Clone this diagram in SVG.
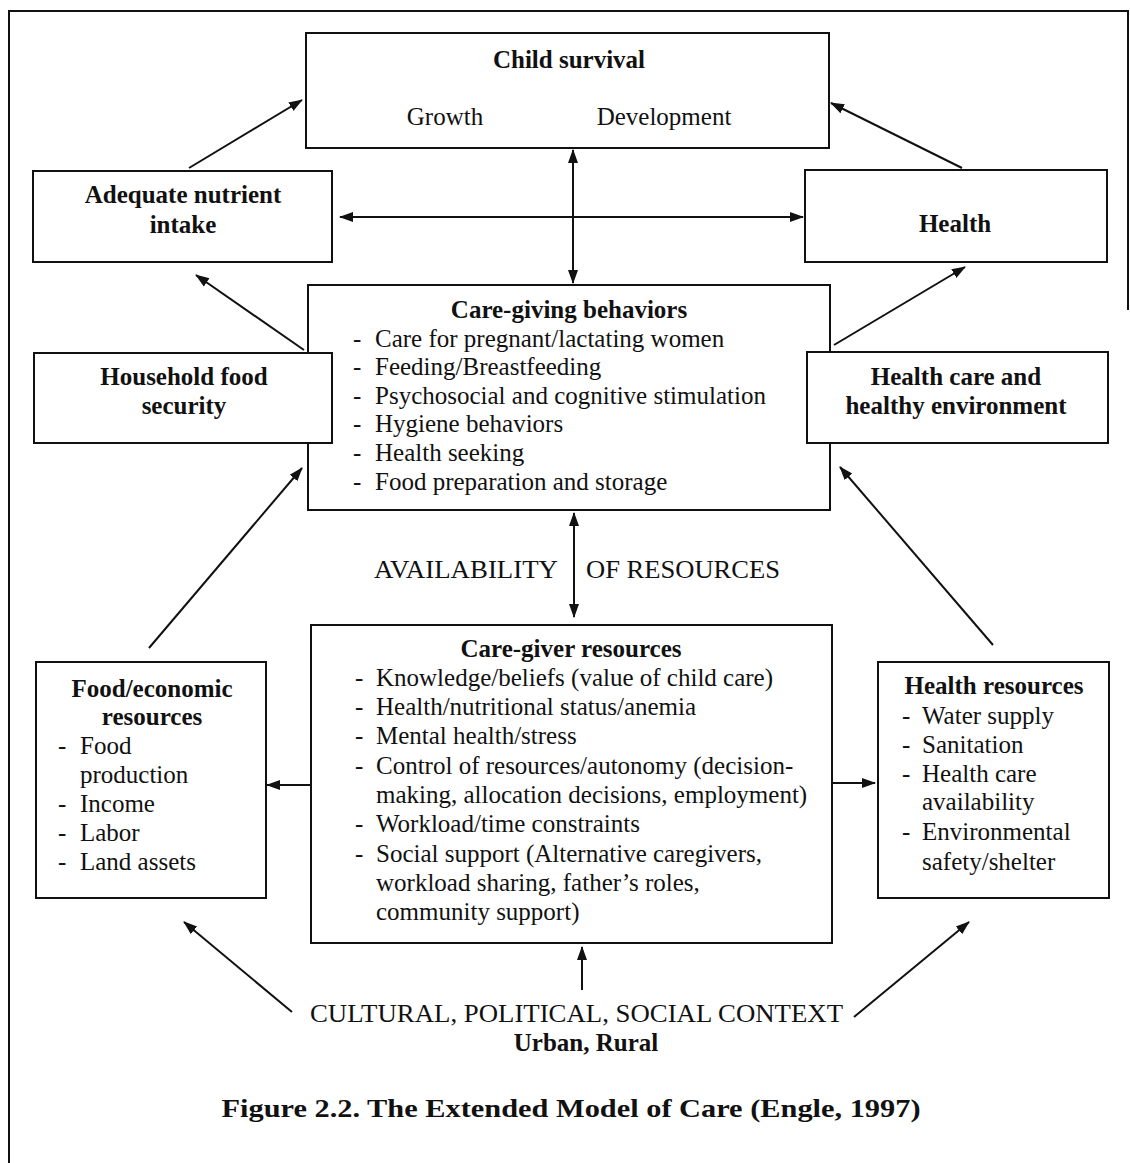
<svg xmlns="http://www.w3.org/2000/svg" width="1130" height="1163" viewBox="0 0 1130 1163">
<style>
  .box { fill: #ffffff; stroke: #111111; stroke-width: 2; }
  .t { font-family: "Liberation Serif", "Times New Roman", serif; font-size: 25px; fill: #111111; }
  .b { font-weight: bold; }
  .c { text-anchor: middle; }
  .ln { stroke: #111111; stroke-width: 2; fill: none; }
  .frame { stroke: #111111; stroke-width: 2; fill: none; }
</style>
<defs>
  <marker id="ah" markerUnits="userSpaceOnUse" markerWidth="14" markerHeight="12" refX="13" refY="5" orient="auto-start-reverse" viewBox="0 0 14 10">
    <path d="M0,0 L14,5 L0,10 z" fill="#111111"/>
  </marker>
</defs>
<rect width="1130" height="1163" fill="#ffffff"/>
<g id="frame">
  <path class="frame" d="M9,1163 L9,11 L1128,11 L1128,310"/>
</g>

<g id="child-survival">
  <rect class="box" x="306" y="33" width="523" height="115"/>
  <text class="t b c" x="569" y="68">Child survival</text>
  <text class="t c" x="445" y="125">Growth</text>
  <text class="t c" x="664" y="125">Development</text>
</g>
<g id="adequate-nutrient">
  <rect class="box" x="33" y="171" width="299" height="91"/>
  <text class="t b c" x="183" y="203">Adequate nutrient</text>
  <text class="t b c" x="183" y="233">intake</text>
</g>
<g id="health">
  <rect class="box" x="805" y="170" width="302" height="92"/>
  <text class="t b c" x="955" y="232">Health</text>
</g>
<g id="care-giving">
  <rect class="box" x="308" y="285" width="522" height="225"/>
  <text class="t b c" x="569" y="318">Care-giving behaviors</text>
  <text class="t" x="353" y="347">-</text><text class="t" x="375" y="347">Care for pregnant/lactating women</text>
  <text class="t" x="353" y="375">-</text><text class="t" x="375" y="375">Feeding/Breastfeeding</text>
  <text class="t" x="353" y="404">-</text><text class="t" x="375" y="404">Psychosocial and cognitive stimulation</text>
  <text class="t" x="353" y="432">-</text><text class="t" x="375" y="432">Hygiene behaviors</text>
  <text class="t" x="353" y="461">-</text><text class="t" x="375" y="461">Health seeking</text>
  <text class="t" x="353" y="490">-</text><text class="t" x="375" y="490">Food preparation and storage</text>
</g>
<g id="household-food">
  <rect class="box" x="34" y="353" width="298" height="90"/>
  <text class="t b c" x="184" y="385">Household food</text>
  <text class="t b c" x="184" y="414">security</text>
</g>
<g id="health-care">
  <rect class="box" x="807" y="352" width="301" height="91"/>
  <text class="t b c" x="956" y="385">Health care and</text>
  <text class="t b c" x="956" y="414">healthy environment</text>
</g>
<g id="availability">
  <text class="t" x="374" y="578" font-size="23" textLength="184" lengthAdjust="spacingAndGlyphs">AVAILABILITY</text>
  <text class="t" x="586" y="578" font-size="23" textLength="194" lengthAdjust="spacingAndGlyphs">OF RESOURCES</text>
</g>
<g id="food-economic">
  <rect class="box" x="36" y="662" width="230" height="236"/>
  <text class="t b c" x="152" y="697">Food/economic</text>
  <text class="t b c" x="152" y="725">resources</text>
  <text class="t" x="58" y="754">-</text><text class="t" x="80" y="754">Food</text>
  <text class="t" x="80" y="783">production</text>
  <text class="t" x="58" y="812">-</text><text class="t" x="80" y="812">Income</text>
  <text class="t" x="58" y="841">-</text><text class="t" x="80" y="841">Labor</text>
  <text class="t" x="58" y="870">-</text><text class="t" x="80" y="870">Land assets</text>
</g>
<g id="care-giver">
  <rect class="box" x="311" y="625" width="521" height="318"/>
  <text class="t b c" x="571" y="657">Care-giver resources</text>
  <text class="t" x="355" y="686">-</text><text class="t" x="376" y="686">Knowledge/beliefs (value of child care)</text>
  <text class="t" x="355" y="715">-</text><text class="t" x="376" y="715">Health/nutritional status/anemia</text>
  <text class="t" x="355" y="744">-</text><text class="t" x="376" y="744">Mental health/stress</text>
  <text class="t" x="355" y="774">-</text><text class="t" x="376" y="774">Control of resources/autonomy (decision-</text>
  <text class="t" x="376" y="803">making, allocation decisions, employment)</text>
  <text class="t" x="355" y="832">-</text><text class="t" x="376" y="832">Workload/time constraints</text>
  <text class="t" x="355" y="862">-</text><text class="t" x="376" y="862">Social support (Alternative caregivers,</text>
  <text class="t" x="376" y="891">workload sharing, father’s roles,</text>
  <text class="t" x="376" y="920">community support)</text>
</g>
<g id="health-resources">
  <rect class="box" x="878" y="662" width="231" height="236"/>
  <text class="t b c" x="994" y="694">Health resources</text>
  <text class="t" x="902" y="724">-</text><text class="t" x="922" y="724">Water supply</text>
  <text class="t" x="902" y="753">-</text><text class="t" x="922" y="753">Sanitation</text>
  <text class="t" x="902" y="782">-</text><text class="t" x="922" y="782">Health care</text>
  <text class="t" x="922" y="810">availability</text>
  <text class="t" x="902" y="840">-</text><text class="t" x="922" y="840">Environmental</text>
  <text class="t" x="922" y="870">safety/shelter</text>
</g>
<g id="context">
  <text class="t" x="310" y="1022" font-size="23" textLength="533" lengthAdjust="spacingAndGlyphs">CULTURAL, POLITICAL, SOCIAL CONTEXT</text>
  <text class="t b c" x="586" y="1051" font-size="21">Urban, Rural</text>
</g>
<g id="caption">
  <text class="t b c" x="571" y="1117" font-size="28" textLength="699" lengthAdjust="spacingAndGlyphs">Figure 2.2. The Extended Model of Care (Engle, 1997)</text>
</g>

<g id="connectors">
  <line class="ln" x1="189" y1="168" x2="302" y2="100" marker-end="url(#ah)"/>
  <line class="ln" x1="962" y1="168" x2="831" y2="103" marker-end="url(#ah)"/>
  <line class="ln" x1="340" y1="217" x2="803" y2="217" marker-start="url(#ah)" marker-end="url(#ah)"/>
  <line class="ln" x1="573" y1="150" x2="573" y2="283" marker-start="url(#ah)" marker-end="url(#ah)"/>
  <line class="ln" x1="304" y1="350" x2="196" y2="275" marker-end="url(#ah)"/>
  <line class="ln" x1="834" y1="345" x2="965" y2="267" marker-end="url(#ah)"/>
  <line class="ln" x1="574" y1="513" x2="574" y2="617" marker-start="url(#ah)" marker-end="url(#ah)"/>
  <line class="ln" x1="149" y1="648" x2="302" y2="468" marker-end="url(#ah)"/>
  <line class="ln" x1="993" y1="645" x2="840" y2="467" marker-end="url(#ah)"/>
  <line class="ln" x1="311" y1="785" x2="267" y2="785" marker-end="url(#ah)"/>
  <line class="ln" x1="832" y1="783" x2="875" y2="783" marker-end="url(#ah)"/>
  <line class="ln" x1="292" y1="1012" x2="184" y2="922" marker-end="url(#ah)"/>
  <line class="ln" x1="582" y1="990" x2="582" y2="947" marker-end="url(#ah)"/>
  <line class="ln" x1="854" y1="1017" x2="969" y2="922" marker-end="url(#ah)"/>
</g>
</svg>
